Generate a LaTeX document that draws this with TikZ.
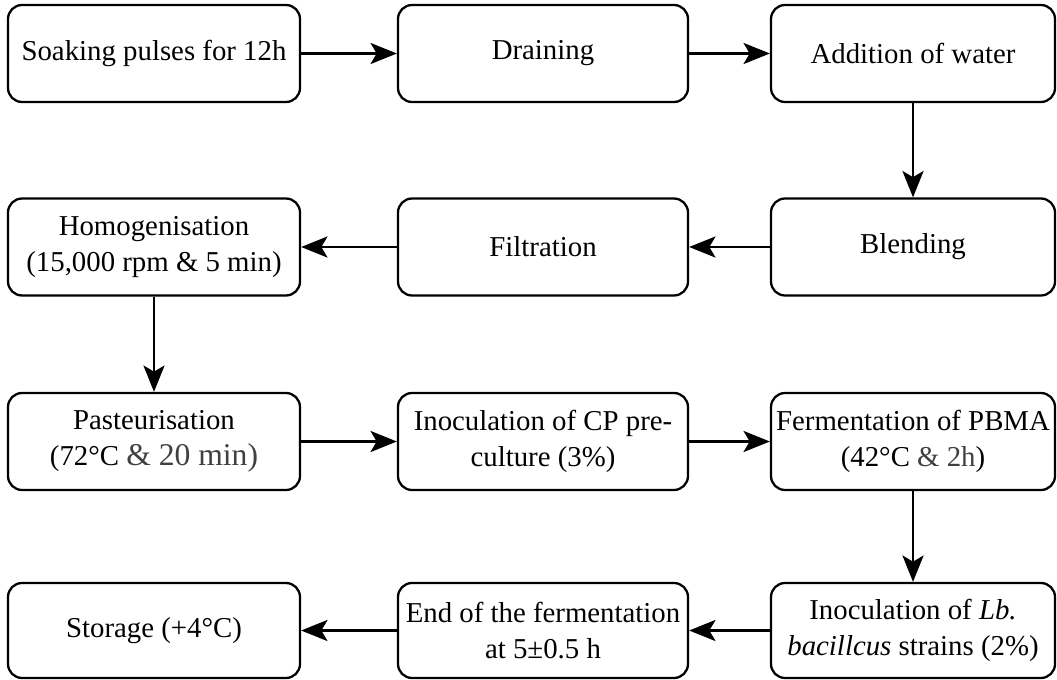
\documentclass[tikz,border=0pt]{standalone}
\usepackage{fontspec}
\setmainfont{Liberation Serif}
\usetikzlibrary{arrows.meta}

\begin{document}
\begin{tikzpicture}[x=0.02cm, y=-0.02cm,
    bx/.style={draw, rounded corners=8pt, line width=1.3pt, align=center,
               font=\rmfamily\fontsize{16.4}{20.5}\selectfont, inner sep=0pt},
    ar/.style={line width=1.3pt, -{Stealth[length=15pt, width=12pt, inset=3.5pt]}}]
            \useasboundingbox (0,0) rectangle (1057,679);
            % row 1
            \node[bx, minimum width=292*0.02cm, minimum height=97*0.02cm] (soak) at (154, 53.5) {Soaking pulses for 12h};
            \node[bx, minimum width=290*0.02cm, minimum height=97*0.02cm] (drain) at (543, 53.5) {Draining};
            \node[bx, minimum width=284*0.02cm, minimum height=97*0.02cm] (water) at (913, 53.5) {Addition of water};
            % row 2
            \node[bx, minimum width=292*0.02cm, minimum height=97*0.02cm] (homog) at (154, 247) {Homogenisation\\(15,000 rpm \& 5 min)};
            \node[bx, minimum width=290*0.02cm, minimum height=97*0.02cm] (filt) at (543, 247) {Filtration};
            \node[bx, minimum width=284*0.02cm, minimum height=97*0.02cm] (blend) at (913, 247) {Blending};
            % row 3
            \node[bx, minimum width=292*0.02cm, minimum height=97*0.02cm] (past) at (154, 441.5) {Pasteurisation\\(72°C {\color{darkgray}\fontsize{18}{20.5}\selectfont\& 20 min)}};
            \node[bx, minimum width=290*0.02cm, minimum height=97*0.02cm] (inoccp) at (543, 441.5) {Inoculation of CP pre-\\culture (3\%)};
            \node[bx, minimum width=284*0.02cm, minimum height=97*0.02cm] (ferm) at (913, 441.5) {Fermentation of PBMA\\(42°C {\color{darkgray}\& 2h})};
            % row 4
            \node[bx, minimum width=292*0.02cm, minimum height=95*0.02cm] (store) at (154, 630.5) {Storage (+4°C)};
            \node[bx, minimum width=290*0.02cm, minimum height=95*0.02cm] (endf) at (543, 630.5) {End of the fermentation\\at 5±0.5 h};
            \node[bx, minimum width=284*0.02cm, minimum height=95*0.02cm] (inoclb) at (913, 630.5) {Inoculation of \textit{Lb.}\\\textit{bacillcus} strains (2\%)};

            \draw[ar] (soak) -- (drain);
            \draw[ar] (drain) -- (water);
            \draw[ar] (water) -- (blend);
            \draw[ar] (blend) -- (filt);
            \draw[ar] (filt) -- (homog);
            \draw[ar] (homog) -- (past);
            \draw[ar] (past) -- (inoccp);
            \draw[ar] (inoccp) -- (ferm);
            \draw[ar] (ferm) -- (inoclb);
            \draw[ar] (inoclb) -- (endf);
            \draw[ar] (endf) -- (store);
        \end{tikzpicture}
\end{document}
